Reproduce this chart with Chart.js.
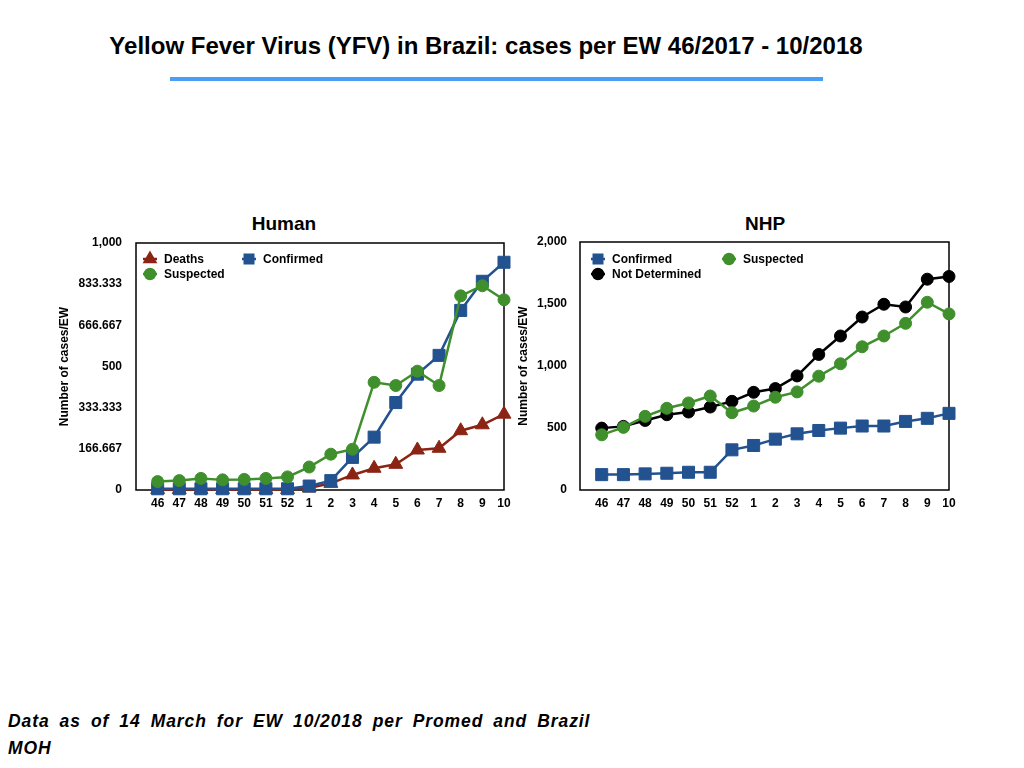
<!DOCTYPE html>
<html>
<head>
<meta charset="utf-8">
<script src="https://cdn.jsdelivr.net/npm/chart.js@4"></script>
<style>
  html, body { margin: 0; padding: 0; background: #fff; }
  body { width: 1024px; height: 768px; position: relative; overflow: hidden;
         font-family: "Liberation Sans", Arial, Helvetica, sans-serif; color: #000; }
  #title { position: absolute; left: 0; top: 32px; width: 972px; text-align: center;
           font-weight: bold; font-size: 24px; line-height: 28px; }
  #rule { position: absolute; left: 170px; top: 77px; width: 653px; height: 4px; background: #4a9ff5; }
  .sub { position: absolute; top: 212px; width: 200px; margin-left: -100px; text-align: center;
         font-weight: bold; font-size: 19px; line-height: 24px; }
  .box { position: absolute; }
  #human-box { left: 40px; top: 200px; width: 488px; height: 320px; }
  #nhp-box { left: 505px; top: 200px; width: 465px; height: 320px; }
  .note { position: absolute; left: 8px; font-weight: bold; font-style: italic;
          font-size: 19px; line-height: 28px; letter-spacing: 1px; white-space: nowrap;
          transform: scaleX(0.92); transform-origin: 0 0; }
  #note1 { top: 707px; width: 633px; text-align: justify; text-align-last: justify; white-space: normal; }
  #note2 { top: 734px; }
</style>
</head>
<body>
<div id="title">Yellow Fever Virus (YFV) in Brazil: cases per EW 46/2017 - 10/2018</div>
<div id="rule"></div>
<div class="sub" style="left:284px">Human</div>
<div class="sub" style="left:765px">NHP</div>
<div class="box" id="human-box"><canvas id="chart-human"></canvas></div>
<div class="box" id="nhp-box"><canvas id="chart-nhp"></canvas></div>
<div class="note" id="note1">Data as of 14 March for EW 10/2018 per Promed and Brazil</div>
<div class="note" id="note2">MOH</div>

<script>
/* YFV Brazil, EW 46/2017 - 10/2018. Values. */

var WEEKS = ["46", "47", "48", "49", "50", "51", "52", "1", "2", "3", "4", "5", "6", "7", "8", "9", "10"];

var HUMAN_DEATHS    = [2, 2, 2, 2, 2, 2, 2, 8, 27, 61, 88, 104, 162, 169, 240, 264, 307];
var HUMAN_CONFIRMED = [5, 5, 5, 5, 5, 5, 5, 16, 38, 132, 214, 354, 469, 545, 727, 845, 922];
var HUMAN_SUSPECTED = [34, 38, 47, 41, 43, 47, 53, 93, 145, 165, 436, 423, 481, 423, 786, 827, 770];

var NHP_CONFIRMED = [124, 124, 130, 135, 143, 143, 324, 359, 410, 453, 480, 499, 516, 516, 553, 578, 618];
var NHP_SUSPECTED = [445, 505, 594, 659, 702, 758, 623, 677, 748, 791, 918, 1018, 1155, 1242, 1344, 1514, 1420];
var NHP_UNDETERMINED = [499, 513, 561, 607, 629, 669, 715, 788, 818, 920, 1093, 1242, 1395, 1498, 1476, 1700, 1722];

var HUMAN_Y_TICKS  = [0, 1000 / 6, 2000 / 6, 500, 4000 / 6, 5000 / 6, 1000];
var HUMAN_Y_LABELS = ["0", "166.667", "333.333", "500", "666.667", "833.333", "1,000"];
var NHP_Y_TICKS  = [0, 500, 1000, 1500, 2000];
var NHP_Y_LABELS = ["0", "500", "1,000", "1,500", "2,000"];

var RED = "#8b2414";
var BLUE = "#22528f";
var GREEN = "#3f8f2c";
var BLACK = "#000000";
var FONT = "'Liberation Sans', Arial, Helvetica, sans-serif";

Chart.defaults.font.family = FONT;
Chart.defaults.color = "#000";

function pts(vals) {
  return vals.map(function (v, i) { return { x: i, y: v }; });
}

function series(label, vals, color, style, radius) {
  return {
    label: label,
    data: pts(vals),
    borderColor: color,
    backgroundColor: color,
    borderWidth: 2.5,
    pointStyle: style,
    pointRadius: radius,
    pointBorderWidth: 1,
    pointBorderColor: color,
    pointBackgroundColor: color,
    tension: 0,
    clip: false
  };
}

// black frame round the plot
var frame = {
  id: "frame",
  beforeDatasetsDraw: function (chart) {
    var a = chart.chartArea, ctx = chart.ctx;
    ctx.save();
    ctx.strokeStyle = "#000";
    ctx.lineWidth = 1.5;
    ctx.strokeRect(a.left, a.top, a.right - a.left, a.bottom - a.top);
    ctx.restore();
  }
};

// two-column legend inside the plot, line + marker swatches
var boxLegend = {
  id: "boxLegend",
  afterDatasetsDraw: function (chart, args, opts) {
    var a = chart.chartArea, ctx = chart.ctx;
    ctx.save();
    ctx.font = "bold 12px " + FONT;
    ctx.textBaseline = "middle";
    ctx.textAlign = "left";
    (opts.items || []).forEach(function (it) {
      var ds = chart.data.datasets[it.ds];
      var x = a.left + it.x, y = a.top + it.y;
      ctx.strokeStyle = ds.borderColor;
      ctx.lineWidth = 2.5;
      ctx.beginPath();
      ctx.moveTo(x - 7, y);
      ctx.lineTo(x + 7, y);
      ctx.stroke();
      ctx.fillStyle = ds.backgroundColor;
      Chart.helpers.drawPoint(ctx, {
        pointStyle: ds.pointStyle, radius: it.r, borderWidth: 1
      }, x, y);
      ctx.fillStyle = "#000";
      ctx.fillText(ds.label, x + 14, y + 0.5);
    });
    ctx.restore();
  }
};

function scales(yTicks, yLabels, yMax, yWidth, yTitlePad, yTickPad) {
  return {
    x: {
      type: "linear", min: -1, max: WEEKS.length - 1,
      grid: { display: false, drawTicks: false }, border: { display: false },
      afterBuildTicks: function (s) { s.ticks = WEEKS.map(function (_, i) { return { value: i }; }); },
      ticks: {
        autoSkip: false, maxRotation: 0, padding: 6,
        font: { size: 12, weight: "bold" },
        callback: function (v, i) { return WEEKS[i]; }
      },
      afterFit: function (s) { s.height = 30; }
    },
    y: {
      min: 0, max: yMax,
      grid: { display: false, drawTicks: false }, border: { display: false },
      afterBuildTicks: function (s) { s.ticks = yTicks.map(function (v) { return { value: v }; }); },
      ticks: {
        autoSkip: false, padding: yTickPad,
        font: { size: 12, weight: "bold" },
        callback: function (v, i) { return yLabels[i]; }
      },
      title: {
        display: true, text: "Number of cases/EW",
        font: { size: 12, weight: "bold" },
        padding: { top: yTitlePad, bottom: 0 }
      },
      afterFit: function (s) { s.width = yWidth; }
    }
  };
}

/* --- Human ------------------------------------------------------------- */
new Chart(document.getElementById("chart-human"), {
  type: "line",
  data: {
    datasets: [
      series("Suspected", HUMAN_SUSPECTED, GREEN, "circle", 6),
      series("Confirmed", HUMAN_CONFIRMED, BLUE, "rect", 8.5),
      series("Deaths", HUMAN_DEATHS, RED, "triangle", 8)
    ]
  },
  options: {
    responsive: true, maintainAspectRatio: false, animation: false,
    layout: { padding: { right: 24, top: 43, bottom: 0, left: 0 } },
    plugins: {
      legend: { display: false },
      tooltip: { enabled: false },
      boxLegend: {
        items: [
          { ds: 2, x: 14, y: 16, r: 6 },
          { ds: 1, x: 113, y: 16, r: 6 },
          { ds: 0, x: 14, y: 31, r: 5 }
        ]
      }
    },
    scales: scales(HUMAN_Y_TICKS, HUMAN_Y_LABELS, 1000, 96, 17, 14)
  },
  plugins: [frame, boxLegend]
});

/* --- NHP --------------------------------------------------------------- */
new Chart(document.getElementById("chart-nhp"), {
  type: "line",
  data: {
    datasets: [
      series("Confirmed", NHP_CONFIRMED, BLUE, "rect", 8.5),
      series("Suspected", NHP_SUSPECTED, GREEN, "circle", 6),
      series("Not Determined", NHP_UNDETERMINED, BLACK, "circle", 6)
    ]
  },
  options: {
    responsive: true, maintainAspectRatio: false, animation: false,
    layout: { padding: { right: 21, top: 42, bottom: 0, left: 0 } },
    plugins: {
      legend: { display: false },
      tooltip: { enabled: false },
      boxLegend: {
        items: [
          { ds: 0, x: 18, y: 17, r: 6 },
          { ds: 1, x: 149, y: 17, r: 5 },
          { ds: 2, x: 18, y: 32, r: 5 }
        ]
      }
    },
    scales: scales(NHP_Y_TICKS, NHP_Y_LABELS, 2000, 75, 11, 13)
  },
  plugins: [frame, boxLegend]
});
</script>
</body>
</html>
